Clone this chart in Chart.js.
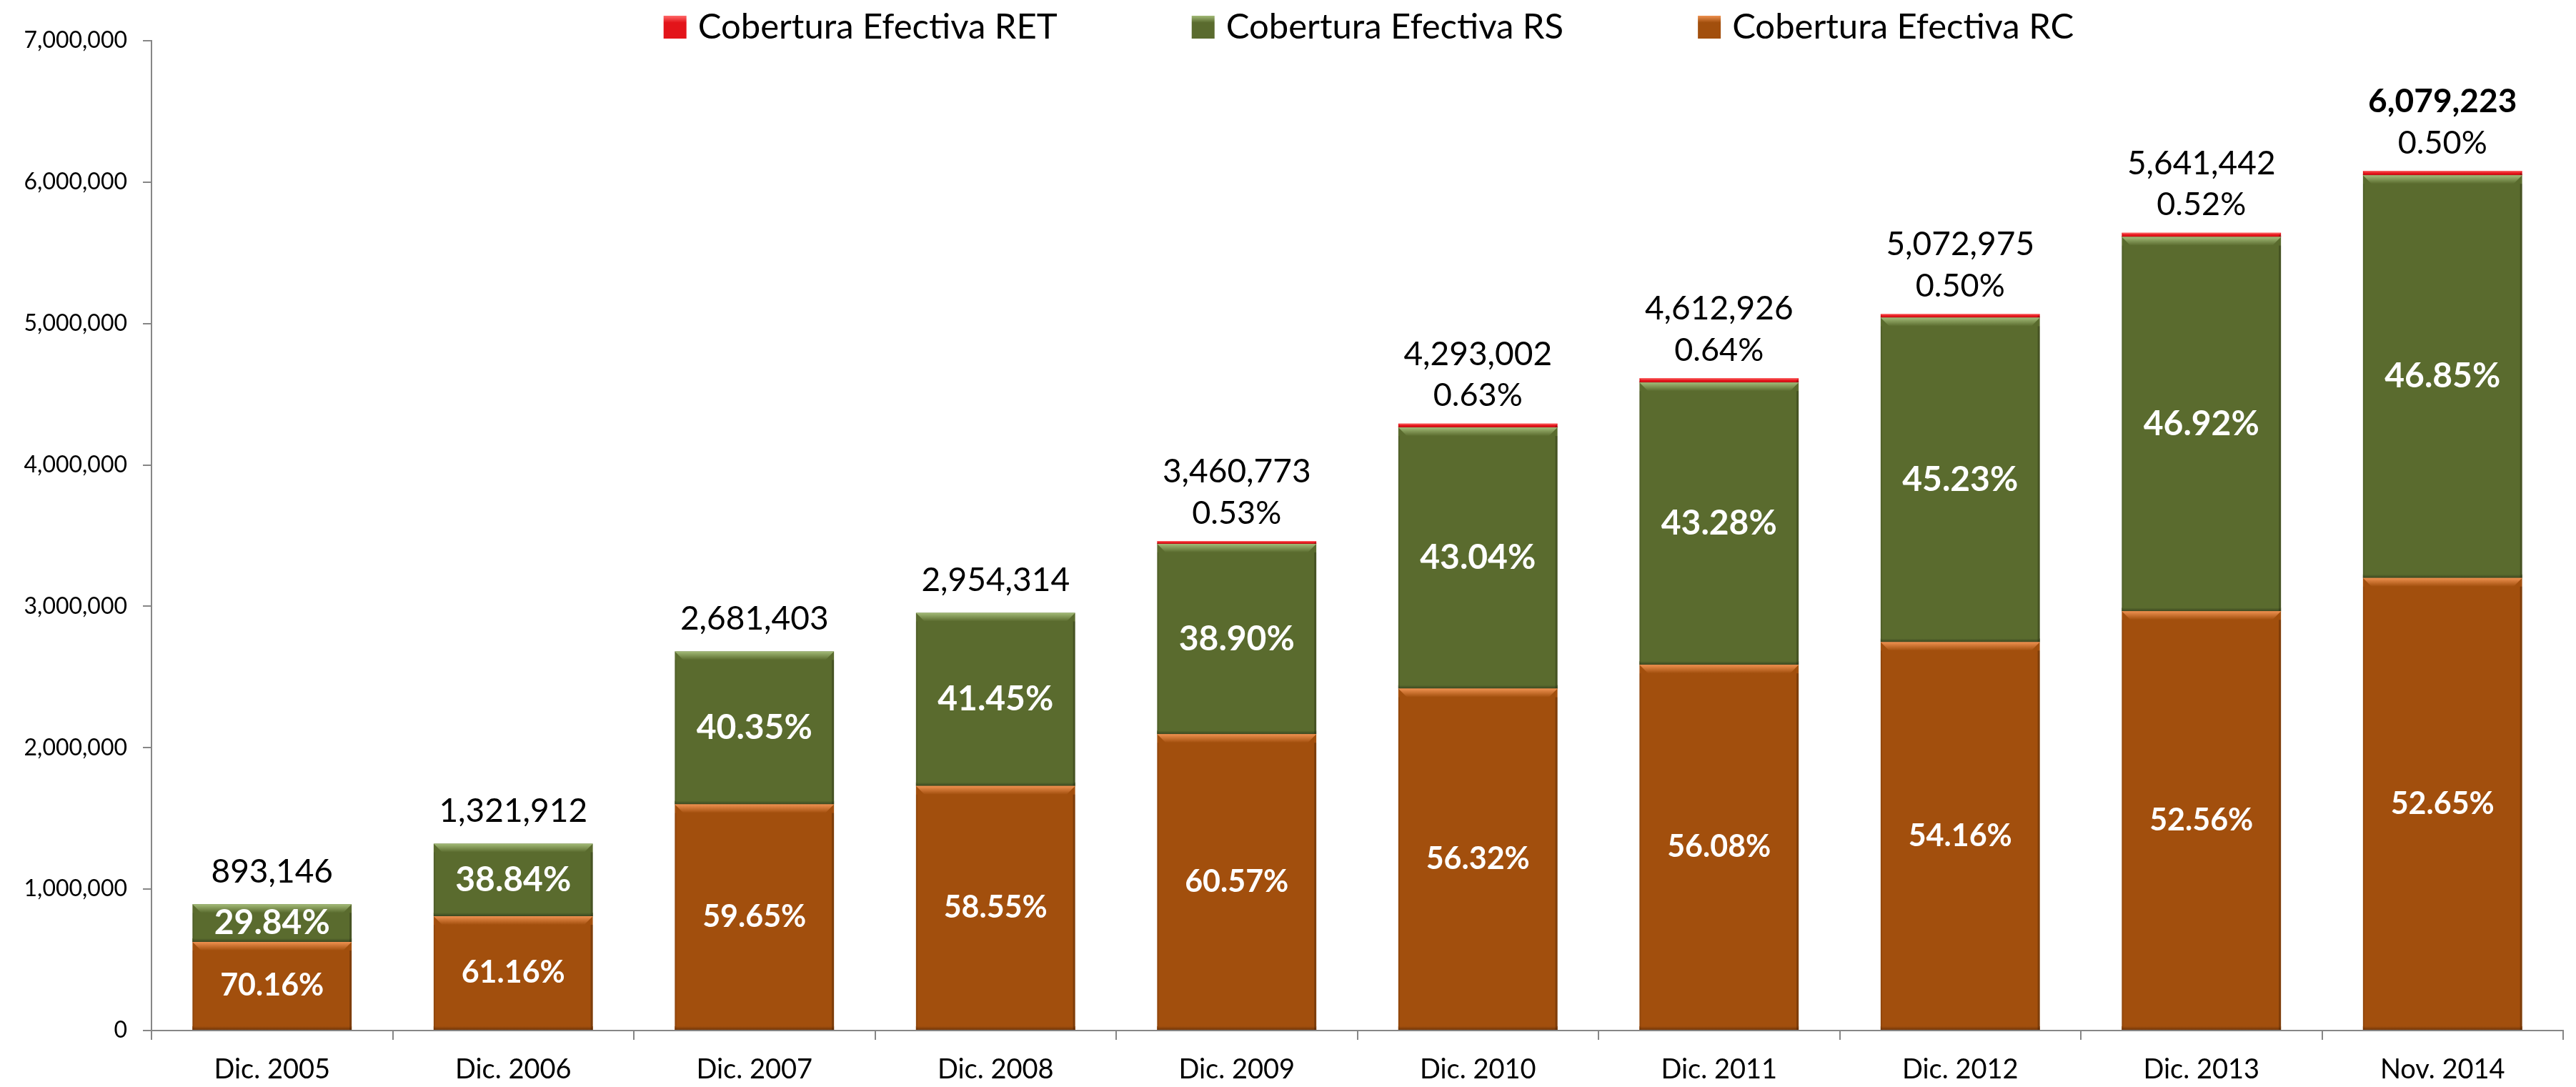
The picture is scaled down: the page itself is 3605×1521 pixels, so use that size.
<!DOCTYPE html>
<html>
<head>
<meta charset="utf-8">
<script src="https://cdn.jsdelivr.net/npm/chart.js@4.4.0/dist/chart.umd.min.js"></script>
<style>
  html, body { margin: 0; padding: 0; background: #fff; }
  #wrap { width: 3605px; height: 1521px; }
</style>
</head>
<body>
<div id="wrap"><canvas id="cobertura-chart" width="3605" height="1521"></canvas></div>
<script>
// Data
const categories = ['Dic. 2005', 'Dic. 2006', 'Dic. 2007', 'Dic. 2008', 'Dic. 2009',
                    'Dic. 2010', 'Dic. 2011', 'Dic. 2012', 'Dic. 2013', 'Nov. 2014'];
const totals = [893146, 1321912, 2681403, 2954314, 3460773, 4293002, 4612926, 5072975, 5641442, 6079223];
const rcPct = [70.16, 61.16, 59.65, 58.55, 60.57, 56.32, 56.08, 54.16, 52.56, 52.65];
const rsPct = [29.84, 38.84, 40.35, 41.45, 38.90, 43.04, 43.28, 45.23, 46.92, 46.85];
const retPct = [0, 0, 0, 0, 0.53, 0.63, 0.64, 0.50, 0.52, 0.50];
const yTicks = [0, 1000000, 2000000, 3000000, 4000000, 5000000, 6000000, 7000000];
const seriesNames = ['Cobertura Efectiva RC', 'Cobertura Efectiva RS', 'Cobertura Efectiva RET'];

const FONT = 'Lato, "Open Sans", sans-serif';
const AXIS_GRAY = '#868686';

// segment sizes from totals and shares
const rcValues = totals.map((t, i) => t * rcPct[i] / 100);
const rsValues = totals.map((t, i) => t * rsPct[i] / 100);
const retValues = totals.map((t, i) => t * retPct[i] / 100);

const seriesStyle = [
    { main: '#A24F0D', light: '#EE9150', dark: '#73370A' },
    { main: '#5A6B2E', light: '#A3BB78', dark: '#3A4620' },
    { main: '#E3141A', light: '#FF6A6A', dark: '#9E0E12' }
];

// fake the Excel bevel on each bar segment
const bevelPlugin = {
    id: 'bevel',
    afterDatasetDraw(chart, args) {
        const ctx = chart.ctx;
        const st = seriesStyle[args.index];
        args.meta.data.forEach(el => {
            const h = el.base - el.y;
            if (h <= 0.5) return;
            const l = el.x - el.width / 2, r = el.x + el.width / 2, t = el.y, b = el.base;
            const bv = Math.min(12, h / 2);
            ctx.save();
            let g = ctx.createLinearGradient(0, t, 0, t + bv);
            g.addColorStop(0, st.light);
            g.addColorStop(1, st.main);
            ctx.fillStyle = g;
            ctx.beginPath();
            ctx.moveTo(l, t);
            ctx.lineTo(r, t);
            ctx.lineTo(r - bv, t + bv);
            ctx.lineTo(l + bv, t + bv);
            ctx.closePath();
            ctx.fill();
            const bb = Math.min(5, h / 4);
            g = ctx.createLinearGradient(0, b - bb, 0, b);
            g.addColorStop(0, st.main);
            g.addColorStop(1, st.dark);
            ctx.fillStyle = g;
            ctx.fillRect(l, b - bb, r - l, bb);
            ctx.fillStyle = 'rgba(0,0,0,0.22)';
            ctx.fillRect(r - 3, t + bv, 3, h - bv);
            ctx.fillStyle = 'rgba(0,0,0,0.10)';
            ctx.fillRect(l, t + bv, 2, h - bv);
            ctx.restore();
        });
    }
};

const labelPlugin = {
    id: 'segLabels',
    afterDatasetsDraw(chart) {
        const ctx = chart.ctx;
        const rc = chart.getDatasetMeta(0).data;
        const rs = chart.getDatasetMeta(1).data;
        const ret = chart.getDatasetMeta(2).data;
        ctx.save();
        ctx.textAlign = 'center';
        ctx.textBaseline = 'middle';
        categories.forEach((c, i) => {
            ctx.fillStyle = '#fff';
            ctx.font = 'bold 43px ' + FONT;
            ctx.fillText(rcPct[i].toFixed(2) + '%', rc[i].x, (rc[i].y + rc[i].base) / 2);
            ctx.font = 'bold 48px ' + FONT;
            ctx.fillText(rsPct[i].toFixed(2) + '%', rs[i].x, (rs[i].y + rs[i].base) / 2);
            ctx.fillStyle = '#000';
            const topY = Math.min(rs[i].y, ret[i].y);
            let off = 45;
            if (retPct[i] > 0) {
                ctx.font = '45px ' + FONT;
                ctx.fillText(retPct[i].toFixed(2) + '%', ret[i].x, topY - 39);
                off = 97;
            }
            ctx.font = (i === categories.length - 1 ? 'bold ' : '') + '46px ' + FONT;
            ctx.fillText(totals[i].toLocaleString('en-US'), rs[i].x, topY - off);
        });
        ctx.restore();
    }
};

// legend drawn by hand: RET, RS, RC
const legendPlugin = {
    id: 'topLegend',
    afterDraw(chart) {
        const ctx = chart.ctx;
        const order = [2, 1, 0];
        const box = 32, gapText = 16, gapItem = 188;
        ctx.save();
        ctx.font = '49px ' + FONT;
        const widths = order.map(k => box + gapText + ctx.measureText(seriesNames[k]).width);
        const total = widths.reduce((a, b) => a + b, 0) + gapItem * (order.length - 1);
        const cx = (chart.chartArea.left + chart.chartArea.right) / 2 + 16;
        let x = cx - total / 2;
        const y = 38;
        ctx.textBaseline = 'middle';
        ctx.textAlign = 'left';
        order.forEach((k, j) => {
            const st = seriesStyle[k];
            const g = ctx.createLinearGradient(0, y - box / 2, 0, y + box / 2);
            g.addColorStop(0, st.light);
            g.addColorStop(0.3, st.main);
            g.addColorStop(1, st.main);
            ctx.fillStyle = g;
            ctx.fillRect(x, y - box / 2, box, box);
            ctx.fillStyle = '#000';
            ctx.fillText(seriesNames[k], x + box + gapText, y);
            x += widths[j] + gapItem;
        });
        ctx.restore();
    }
};

const ctx = document.getElementById('cobertura-chart');
new Chart(ctx, {
    type: 'bar',
    data: {
        labels: categories,
        datasets: [
            { label: seriesNames[0], data: rcValues, backgroundColor: seriesStyle[0].main },
            { label: seriesNames[1], data: rsValues, backgroundColor: seriesStyle[1].main },
            { label: seriesNames[2], data: retValues, backgroundColor: seriesStyle[2].main }
        ]
    },
    options: {
        responsive: false,
        animation: false,
        devicePixelRatio: 1,
        layout: { padding: { top: 57, right: 18, left: 0, bottom: 0 } },
        datasets: { bar: { categoryPercentage: 1, barPercentage: 0.66 } },
        plugins: {
            legend: { display: false },
            tooltip: { enabled: false }
        },
        scales: {
            x: {
                stacked: true,
                grid: { offset: true, drawOnChartArea: false, drawTicks: true, tickLength: 13, color: AXIS_GRAY, lineWidth: 2 },
                border: { display: true, color: AXIS_GRAY, width: 2 },
                ticks: { color: '#000', font: { family: FONT, size: 38 }, padding: 19, maxRotation: 0 },
                afterFit: s => { s.height = 79; }
            },
            y: {
                stacked: true,
                min: 0,
                max: 7000000,
                afterBuildTicks: s => { s.ticks = yTicks.map(v => ({ value: v })); },
                grid: { drawOnChartArea: false, drawTicks: true, tickLength: 12, color: AXIS_GRAY, lineWidth: 2 },
                border: { display: true, color: AXIS_GRAY, width: 2 },
                ticks: {
                    color: '#000',
                    font: { family: FONT, size: 32 },
                    padding: 22,
                    callback: v => v.toLocaleString('en-US')
                },
                afterFit: s => { s.width = 212; }
            }
        }
    },
    plugins: [bevelPlugin, labelPlugin, legendPlugin]
});
</script>
</body>
</html>
